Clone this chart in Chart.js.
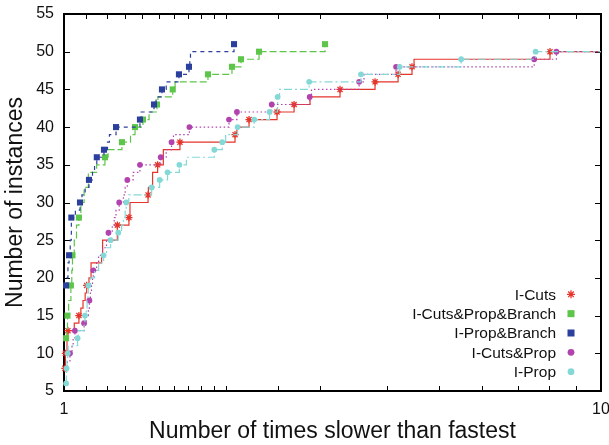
<!DOCTYPE html>
<html>
<head>
<meta charset="utf-8">
<script src="https://cdn.jsdelivr.net/npm/chart.js@4.4.0/dist/chart.umd.min.js"></script>
<style>
	html, body { margin: 0; padding: 0; background: #fff; }
	#wrap { width: 609px; height: 445px; }
</style>
</head>
<body>
<div id="wrap"><canvas id="chart"></canvas></div>
<script>
// ratio to fastest (x) and number of instances solved (y), one step per entry
const cutsX = [1.004, 1.006, 1.013, 1.017, 1.045, 1.066, 1.075, 1.085, 1.095, 1.102, 1.113, 1.123, 1.175, 1.180, 1.257, 1.321, 1.327, 1.434, 1.436, 1.462, 1.494, 1.531, 1.644, 2.082, 2.099, 2.211, 2.493, 2.682, 2.872, 3.266, 3.795, 4.189, 4.447, 4.486, 8.036, 10];
const cutsY = [8, 10, 12, 13, 14, 15, 16, 17, 18, 19, 20, 22, 23, 25, 27, 28, 30, 31, 32, 34, 35, 37, 38, 39, 40, 41, 42, 43, 44, 45, 46, 47, 48, 49, 50, 50];
const cutsMarks = [8, 10, 13, 15, 19, 27, 28, 31, 35, 38, 39, 41, 42, 43, 45, 46, 47, 48, 50];

const cpbX = [1.009, 1.012, 1.015, 1.020, 1.030, 1.034, 1.037, 1.045, 1.055, 1.066, 1.075, 1.090, 1.110, 1.150, 1.192, 1.208, 1.282, 1.330, 1.356, 1.403, 1.440, 1.490, 1.496, 1.594, 1.610, 1.854, 2.055, 2.136, 2.308, 3.063];
const cpbY = [12, 13, 15, 17, 19, 21, 23, 25, 27, 28, 30, 32, 34, 35, 36, 37, 38, 39, 40, 41, 42, 43, 44, 45, 46, 47, 48, 49, 50, 51];
const cpbMarks = [12, 15, 19, 23, 28, 36, 38, 40, 41, 43, 45, 47, 48, 49, 50, 51];

const pbX = [1.009, 1.013, 1.017, 1.022, 1.027, 1.032, 1.050, 1.071, 1.080, 1.095, 1.113, 1.130, 1.140, 1.151, 1.187, 1.205, 1.215, 1.250, 1.385, 1.392, 1.471, 1.484, 1.522, 1.550, 1.637, 1.709, 1.715, 1.720, 2.073];
const pbY = [19, 20, 22, 23, 25, 28, 29, 30, 31, 32, 33, 34, 35, 36, 37, 38, 39, 40, 41, 42, 43, 44, 45, 46, 47, 48, 49, 50, 51];
const pbMarks = [19, 23, 28, 30, 33, 36, 37, 40, 41, 43, 45, 47, 48, 51];

const cpX = [1.004, 1.015, 1.026, 1.035, 1.040, 1.048, 1.090, 1.100, 1.110, 1.115, 1.120, 1.125, 1.130, 1.134, 1.150, 1.160, 1.180, 1.200, 1.210, 1.230, 1.240, 1.250, 1.267, 1.290, 1.300, 1.312, 1.345, 1.385, 1.514, 1.550, 1.586, 1.599, 1.712, 2.029, 2.099, 2.437, 2.868, 2.890, 3.545, 3.620, 4.153, 7.510, 8.260, 10];
const cpY = [8, 9, 10, 11, 12, 13, 14, 15, 16, 17, 18, 19, 20, 21, 22, 23, 24, 25, 26, 27, 28, 29, 30, 31, 32, 33, 34, 35, 36, 37, 38, 39, 40, 41, 42, 43, 44, 45, 46, 47, 48, 49, 50, 50];
const cpMarks = [10, 13, 14, 17, 21, 26, 30, 33, 35, 36, 38, 40, 41, 42, 43, 44, 46, 48, 49, 50];

const propX = [1.009, 1.010, 1.011, 1.013, 1.016, 1.018, 1.060, 1.063, 1.090, 1.094, 1.100, 1.104, 1.108, 1.110, 1.120, 1.140, 1.160, 1.185, 1.200, 1.221, 1.262, 1.280, 1.290, 1.300, 1.306, 1.320, 1.456, 1.507, 1.559, 1.640, 1.690, 1.905, 1.971, 2.000, 2.105, 2.261, 2.414, 2.499, 2.520, 2.861, 3.573, 4.218, 5.490, 7.555, 10];
const propY = [6, 7, 8, 9, 10, 11, 12, 13, 14, 15, 16, 17, 18, 19, 20, 21, 22, 23, 24, 25, 26, 27, 28, 29, 30, 31, 32, 33, 34, 35, 36, 37, 38, 39, 40, 41, 42, 44, 45, 46, 47, 48, 49, 50, 50];
const propMarks = [6, 8, 10, 12, 15, 19, 23, 25, 26, 30, 32, 33, 34, 35, 37, 38, 40, 41, 42, 44, 46, 47, 48, 49, 50];

const xMin = 1, xMax = 10;
const yMin = 5, yMax = 55, yStep = 5;

const FONT = '"Liberation Sans", Arial, Helvetica, sans-serif';

const seriesList = [
	{ label: 'I-Cuts', x: cutsX, y: cutsY, marks: cutsMarks, color: '#e5352b', dash: [], point: 'star', r: 3.6 },
	{ label: 'I-Cuts&Prop&Branch', x: cpbX, y: cpbY, marks: cpbMarks, color: '#5dc64a', dash: [7, 3], point: 'rect', r: 4.3 },
	{ label: 'I-Prop&Branch', x: pbX, y: pbY, marks: pbMarks, color: '#2b3f9d', dash: [4, 4], point: 'rect', r: 4.3 },
	{ label: 'I-Cuts&Prop', x: cpX, y: cpY, marks: cpMarks, color: '#b243ae', dash: [1.5, 2.5], point: 'circle', r: 2.9 },
	{ label: 'I-Prop', x: propX, y: propY, marks: propMarks, color: '#84d9d6', dash: [8, 3, 2, 3], point: 'circle', r: 2.9 }
];

function toPoints(xs, ys) {
	return xs.map((x, i) => ({ x: x, y: ys[i] }));
}

// only the first point at each marked count gets a symbol
function markedPoints(xs, ys, marks) {
	const seen = new Set();
	const out = [];
	xs.forEach((x, i) => {
		if (marks.includes(ys[i]) && !seen.has(ys[i])) {
			seen.add(ys[i]);
			out.push({ x: x, y: ys[i] });
		}
	});
	return out;
}

const datasets = [];
seriesList.forEach((s, i) => {
	datasets.push({
		label: s.label,
		data: toPoints(s.x, s.y),
		stepped: 'before',
		borderColor: s.color,
		borderWidth: 1.2,
		borderDash: s.dash,
		pointRadius: 0,
		fill: false,
		order: 20 - 2 * i
	});
	datasets.push({
		label: s.label + ' marks',
		data: markedPoints(s.x, s.y, s.marks),
		showLine: false,
		pointStyle: s.point,
		pointRadius: s.r,
		borderColor: s.color,
		backgroundColor: s.color,
		borderWidth: s.point === 'star' ? 1.3 : 0,
		clip: 8,
		order: 19 - 2 * i
	});
});

function drawMark(ctx, s, x, y) {
	ctx.save();
	ctx.fillStyle = s.color;
	ctx.strokeStyle = s.color;
	if (s.point === 'star') {
		const r = 4;
		ctx.lineWidth = 1.3;
		ctx.beginPath();
		ctx.moveTo(x - r, y); ctx.lineTo(x + r, y);
		ctx.moveTo(x, y - r); ctx.lineTo(x, y + r);
		const d = r * Math.SQRT1_2;
		ctx.moveTo(x - d, y - d); ctx.lineTo(x + d, y + d);
		ctx.moveTo(x - d, y + d); ctx.lineTo(x + d, y - d);
		ctx.stroke();
	} else if (s.point === 'rect') {
		ctx.fillRect(x - 3.5, y - 3.5, 7, 7);
	} else {
		ctx.beginPath();
		ctx.arc(x, y, 3.4, 0, Math.PI * 2);
		ctx.fill();
	}
	ctx.restore();
}

// gnuplot style frame with inward ticks on all four sides
const frame = {
	id: 'frame',
	beforeDatasetsDraw(chart) {
		const { ctx, chartArea: a, scales } = chart;
		ctx.save();
		ctx.strokeStyle = '#000';
		ctx.lineWidth = 1;
		ctx.beginPath();
		scales.y.ticks.forEach(t => {
			const y = Math.round(scales.y.getPixelForValue(t.value)) + 0.5;
			ctx.moveTo(a.left, y); ctx.lineTo(a.left + 6, y);
			ctx.moveTo(a.right, y); ctx.lineTo(a.right - 6, y);
		});
		scales.x.ticks.forEach(t => {
			const x = Math.round(scales.x.getPixelForValue(t.value)) + 0.5;
			ctx.moveTo(x, a.bottom); ctx.lineTo(x, a.bottom - 5);
			ctx.moveTo(x, a.top); ctx.lineTo(x, a.top + 5);
		});
		ctx.stroke();
		ctx.lineWidth = 2;
		ctx.strokeRect(a.left, a.top, a.right - a.left, a.bottom - a.top);
		ctx.restore();
	}
};

const keyBox = {
	id: 'keyBox',
	afterDraw(chart) {
		const { ctx, chartArea: a } = chart;
		ctx.save();
		ctx.font = '15.5px ' + FONT;
		ctx.textAlign = 'right';
		ctx.textBaseline = 'middle';
		ctx.fillStyle = '#111';
		seriesList.forEach((s, i) => {
			const y = a.bottom - 96.7 + i * 19.35;
			ctx.fillText(s.label, a.right - 45, y + 1);
			drawMark(ctx, s, a.right - 30, y);
		});
		ctx.restore();
	}
};

new Chart(document.getElementById('chart'), {
	type: 'line',
	data: { datasets: datasets },
	options: {
		responsive: true,
		maintainAspectRatio: false,
		animation: false,
		devicePixelRatio: 1,
		layout: { padding: { top: 14, right: 8, left: 0, bottom: 0 } },
		plugins: {
			legend: { display: false },
			tooltip: { enabled: false }
		},
		scales: {
			x: {
				type: 'logarithmic',
				min: xMin,
				max: xMax,
				grid: { display: false, drawTicks: false },
				border: { display: false },
				ticks: {
					autoSkip: false,
					maxRotation: 0,
					padding: 9,
					color: '#111',
					font: { family: FONT, size: 16 },
					callback: v => (v === xMin || v === xMax) ? String(v) : ''
				},
				title: {
					display: true,
					text: 'Number of times slower than fastest',
					color: '#111',
					font: { family: FONT, size: 23 },
					padding: 0
				},
				afterFit: s => { s.height = 54; s.paddingLeft = 0; s.paddingRight = 0; }
			},
			y: {
				min: yMin,
				max: yMax,
				grid: { display: false, drawTicks: false },
				border: { display: false },
				ticks: {
					stepSize: yStep,
					padding: 10,
					color: '#111',
					font: { family: FONT, size: 16 }
				},
				title: {
					display: true,
					text: 'Number of instances',
					color: '#111',
					font: { family: FONT, size: 23 },
					padding: 2
				},
				afterFit: s => { s.width = 64; s.paddingTop = 0; s.paddingBottom = 0; }
			}
		}
	},
	plugins: [frame, keyBox]
});
</script>
</body>
</html>
